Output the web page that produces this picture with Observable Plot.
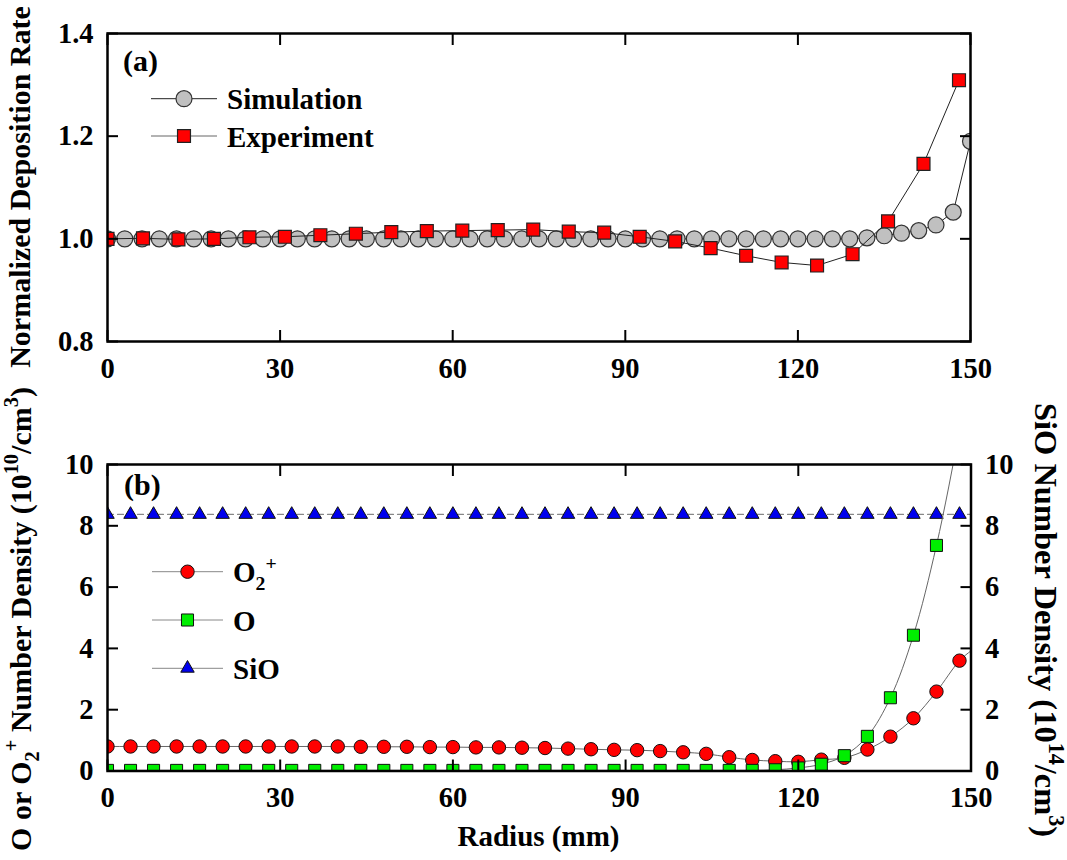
<!DOCTYPE html>
<html><head><meta charset="utf-8">
<script src="https://cdn.jsdelivr.net/npm/d3@7"></script>
<script src="https://cdn.jsdelivr.net/npm/@observablehq/plot@0.6"></script>
<style>
body{margin:0;background:#fff;}
#chart{width:1067px;height:860px;}
#chart svg{display:block;}
</style></head><body><div id="chart"></div>
<script>
const FONT = '"Liberation Serif","Times New Roman",serif';

// tick labels
const radiusTicks = [0, 30, 60, 90, 120, 150];
const rateTicks = [0.8, 1.0, 1.2, 1.4];
const densityTicks = [0, 2, 4, 6, 8, 10];

// panel (a): normalized deposition rate
const simRadius = [0,3,6,9,12,15,18,21,24,27,30,33,36,39,42,45,48,51,54,57,60,63,66,69,72,75,78,81,84,87,90,93,96,99,102,105,108,111,114,117,120,123,126,129,132,135,138,141,144,147,150];
const simRate = [1.000,1.000,1.000,1.000,1.000,1.000,1.000,1.000,1.000,1.000,1.000,1.000,1.000,1.000,1.000,1.000,1.000,1.000,1.000,1.000,1.000,1.000,1.000,1.000,1.000,1.000,1.000,1.000,1.000,1.000,1.000,1.000,1.000,1.000,1.000,1.000,1.000,1.000,1.000,1.000,1.000,1.000,1.000,1.000,1.002,1.006,1.011,1.016,1.027,1.052,1.190];
const expRadius = [0,6.17,12.33,18.5,24.67,30.83,37,43.17,49.33,55.5,61.67,67.83,74,80.17,86.33,92.5,98.67,104.83,111,117.17,123.33,129.5,135.67,141.83,148];
const expRate = [1.000,1.001,0.999,1.000,1.003,1.004,1.007,1.010,1.013,1.015,1.016,1.017,1.018,1.014,1.012,1.004,0.995,0.982,0.967,0.954,0.948,0.970,1.034,1.146,1.309];

// panel (b): number densities
const densRadius = [0,4,8,12,16,20,24,28,32,36,40,44,48,52,56,60,64,68,72,76,80,84,88,92,96,100,104,108,112,116,120,124,128,132,136,140,144,148];
const o2pDensity = [0.80,0.80,0.80,0.80,0.80,0.80,0.80,0.80,0.80,0.80,0.80,0.79,0.79,0.79,0.78,0.78,0.77,0.77,0.76,0.75,0.73,0.71,0.69,0.68,0.65,0.61,0.56,0.45,0.36,0.32,0.30,0.37,0.43,0.70,1.12,1.72,2.59,3.60];
const oDensity = [0.02,0.02,0.02,0.02,0.02,0.02,0.02,0.02,0.02,0.02,0.02,0.02,0.02,0.02,0.02,0.02,0.02,0.02,0.02,0.02,0.02,0.02,0.02,0.02,0.02,0.02,0.02,0.02,0.02,0.04,0.10,0.22,0.50,1.13,2.39,4.43,7.36,11.1];
const sioDensity = [8.37,8.37,8.37,8.37,8.37,8.37,8.37,8.37,8.37,8.37,8.37,8.37,8.37,8.37,8.37,8.37,8.37,8.37,8.37,8.37,8.37,8.37,8.37,8.37,8.37,8.37,8.37,8.37,8.37,8.37,8.37,8.37,8.37,8.37,8.37,8.37,8.37,8.37];
// line continuation to the wall (no marker)
const edgeRadius = 150;
const o2pEdge = 3.92;
const oEdge = 13.2;
const sioEdge = 8.37;

const sim = simRadius.map((x, i) => ({x, y: simRate[i]}));
const exp = expRadius.map((x, i) => ({x, y: expRate[i]}));
const o2p = densRadius.map((x, i) => ({x, y: o2pDensity[i]}));
const oo = densRadius.map((x, i) => ({x, y: oDensity[i]}));
const sio = densRadius.map((x, i) => ({x, y: sioDensity[i]}));
const o2pLine = o2p.concat([{x: edgeRadius, y: o2pEdge}]);
const ooLine = oo.concat([{x: edgeRadius, y: oEdge}]);
const sioLine = sio.concat([{x: edgeRadius, y: sioEdge}]);

const TICK = 28.5;
function axesFor(xTicks, yTicks, yFmt, rightLabels) {
  const none = () => "";
  const m = [
    Plot.axisX({anchor: "bottom", ticks: xTicks, tickSize: 0, tickPadding: 16, fontSize: TICK, label: null}),
    Plot.axisX({anchor: "bottom", ticks: xTicks, tickSize: -11, strokeWidth: 2, tickFormat: none, label: null}),
    Plot.axisX({anchor: "top", ticks: xTicks, tickSize: -11, strokeWidth: 2, tickFormat: none, label: null}),
    Plot.axisY({anchor: "left", ticks: yTicks, tickSize: 0, tickPadding: 14, fontSize: TICK, tickFormat: yFmt, label: null}),
    Plot.axisY({anchor: "left", ticks: yTicks, tickSize: -11, strokeWidth: 2, tickFormat: none, label: null}),
    Plot.axisY({anchor: "right", ticks: yTicks, tickSize: -11, strokeWidth: 2, tickFormat: none, label: null})
  ];
  if (rightLabels) m.push(Plot.axisY({anchor: "right", ticks: yTicks, tickSize: 0, tickPadding: 14, fontSize: TICK, tickFormat: yFmt, label: null}));
  return m;
}

const style = {fontFamily: FONT, fontWeight: "bold", color: "#000", background: "#fff", overflow: "visible"};

const topPlot = Plot.plot({
  width: 1067, height: 400,
  marginTop: 33, marginBottom: 59, marginLeft: 107, marginRight: 97,
  style,
  x: {domain: [0, 150]},
  y: {domain: [0.8, 1.4]},
  marks: [
    Plot.line(sim, {x: "x", y: "y", stroke: "#222", strokeWidth: 1, clip: true}),
    Plot.dot(sim, {x: "x", y: "y", r: 8, fill: "#c0c0c0", stroke: "#333", strokeWidth: 1.2, clip: true}),
    Plot.line(exp, {x: "x", y: "y", stroke: "#222", strokeWidth: 1, clip: true}),
    Plot.dot(exp, {x: "x", y: "y", symbol: "square", r: 7.3, fill: "#ff0000", stroke: "#222", strokeWidth: 1.2, clip: true}),
    ...axesFor(radiusTicks, rateTicks, d3.format(".1f"), false),
    Plot.frame({stroke: "#000", strokeWidth: 2.5})
  ]
});

const botPlot = Plot.plot({
  width: 1067, height: 460,
  marginTop: 64, marginBottom: 89.5, marginLeft: 107, marginRight: 96.5,
  style,
  x: {domain: [0, 150]},
  y: {domain: [0, 10]},
  marks: [
    Plot.line(sioLine, {x: "x", y: "y", stroke: "#888", strokeWidth: 1.2, strokeDasharray: "6,4", clip: true}),
    Plot.dot(sio, {x: "x", y: "y", symbol: "triangle", r: 5, fill: "#0000ee", stroke: "#111", strokeWidth: 1, clip: true}),
    Plot.line(o2pLine, {x: "x", y: "y", stroke: "#666", strokeWidth: 1, curve: "catmull-rom", clip: true}),
    Plot.dot(o2p, {x: "x", y: "y", r: 6.7, fill: "#ff0000", stroke: "#111", strokeWidth: 1, clip: true}),
    Plot.line(ooLine, {x: "x", y: "y", stroke: "#666", strokeWidth: 1, curve: "catmull-rom", clip: true}),
    Plot.dot(oo, {x: "x", y: "y", symbol: "square", r: 6.8, fill: "#00ee00", stroke: "#111", strokeWidth: 1, clip: true}),
    ...axesFor(radiusTicks, densityTicks, d3.format("d"), true),
    Plot.frame({stroke: "#000", strokeWidth: 2.5})
  ]
});

function richText(svg, x, y, rot, size, anchor, parts) {
  const t = d3.select(svg).append("text")
    .attr("transform", `translate(${x},${y}) rotate(${rot})`)
    .attr("text-anchor", anchor)
    .attr("font-family", FONT).attr("font-weight", "bold")
    .attr("font-size", size).attr("fill", "#000");
  let shift = 0;
  for (const p of parts) {
    const s = typeof p === "string" ? {t: p, v: 0} : p;
    const target = s.v * size;
    t.append("tspan").attr("dy", target - shift).attr("font-size", s.v ? size * 0.68 : size).text(s.t);
    shift = target;
  }
  return t;
}
const SUP = -0.42, SUB = 0.25;

function legendRow(svg, y, x1, x2, xm, stroke, marker, label) {
  const g = d3.select(svg).append("g");
  g.append("line").attr("x1", x1).attr("x2", x2).attr("y1", y).attr("y2", y).attr("stroke", stroke).attr("stroke-width", 1);
  if (marker.type === "circle") {
    g.append("circle").attr("cx", xm).attr("cy", y).attr("r", marker.r).attr("fill", marker.fill).attr("stroke", marker.stroke).attr("stroke-width", marker.sw);
  } else {
    const sym = marker.type === "square" ? d3.symbolSquare : d3.symbolTriangle;
    g.append("path").attr("transform", `translate(${xm},${y})`).attr("d", d3.symbol(sym, Math.PI * marker.r * marker.r)())
      .attr("fill", marker.fill).attr("stroke", marker.stroke).attr("stroke-width", marker.sw);
  }
  richText(svg, x2 + 10, y + 10.7, 0, 29, "start", label);
}

// panel (a) annotations
richText(topPlot, 123, 71, 0, 30, "start", ["(a)"]);
richText(topPlot, 30, 187, -90, 30, "middle", ["Normalized Deposition Rate"]);
legendRow(topPlot, 98.7, 151, 217, 184, "#222", {type: "circle", r: 8, fill: "#c0c0c0", stroke: "#333", sw: 1.2}, ["Simulation"]);
legendRow(topPlot, 136, 151, 217, 184, "#666", {type: "square", r: 7.3, fill: "#ff0000", stroke: "#222", sw: 1.2}, ["Experiment"]);

// panel (b) annotations
richText(botPlot, 124, 95, 0, 30, "start", ["(b)"]);
richText(botPlot, 31, 219, -90, 30, "middle", ["O or O", {t: "2", v: SUB}, {t: "+", v: SUP}, " Number Density (10", {t: "10", v: SUP}, "/cm", {t: "3", v: SUP}, ")"]);
richText(botPlot, 1035, 220, 90, 32.5, "middle", ["SiO Number Density (10", {t: "14", v: SUP}, "/cm", {t: "3", v: SUP}, ")"]);
richText(botPlot, 538.5, 446, 0, 29, "middle", ["Radius (mm)"]);
legendRow(botPlot, 171.7, 152, 223, 187.5, "#888", {type: "circle", r: 6.7, fill: "#ff0000", stroke: "#111", sw: 1}, ["O", {t: "2", v: SUB}, {t: "+", v: SUP}]);
legendRow(botPlot, 220, 152, 223, 187.5, "#888", {type: "square", r: 6.8, fill: "#00ee00", stroke: "#111", sw: 1}, ["O"]);
legendRow(botPlot, 268.3, 152, 223, 187.5, "#888", {type: "triangle", r: 5, fill: "#0000ee", stroke: "#111", sw: 1}, ["SiO"]);

document.getElementById("chart").append(topPlot, botPlot);
</script></body></html>
